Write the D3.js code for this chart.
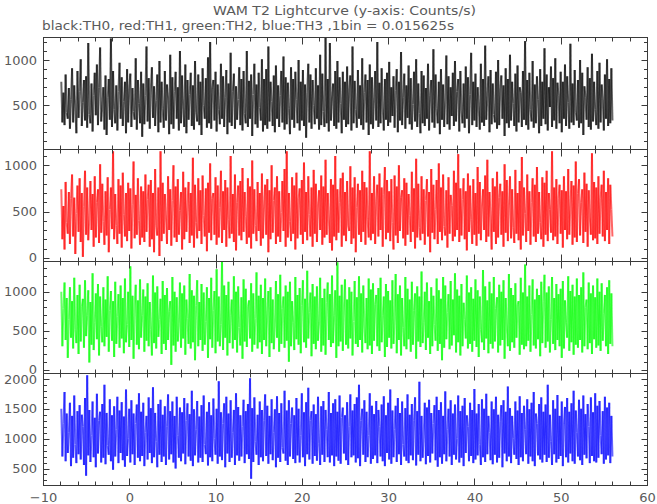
<!DOCTYPE html>
<html><head><meta charset="utf-8">
<script src="https://cdn.jsdelivr.net/npm/d3@7"></script>
<style>body{margin:0;background:#fff}svg{display:block}text{font-family:"DejaVu Sans",sans-serif;fill:#5a5a5a}</style>
</head><body><svg id="c" width="657" height="504"></svg>
<script>
const title = "WAM T2 Lightcurve (y-axis: Counts/s)";
const subtitle = "black:TH0, red:TH1, green:TH2, blue:TH3 ,1bin = 0.015625s";
const seriesNames = ["TH0","TH1","TH2","TH3"];
const tStart = -8, binWidth = 0.125;
const xTickLabels = [-10,0,10,20,30,40,50,60];
const yDomains = [[10,1250],[-40,1170],[-51,1390],[216,2089]];
const yLabelTicks = [[500,1000],[0,500,1000],[0,500,1000],[500,1000,1500,2000]];
const seriesColors = ["#000000","#ff0000","#00ff00","#0000ff"];

const th0 = [760,310,640,280,840,420,350,690,240,560,910,310,720,470,190,880,
360,650,1010,270,530,780,330,820,250,1190,400,300,740,210,610,860,
390,950,280,700,1140,320,480,700,230,830,170,590,790,340,1240,260,
880,450,300,720,220,650,970,350,810,270,540,760,190,900,310,680,
850,260,690,430,340,1020,230,780,520,300,870,150,740,290,610,1150,
320,800,240,680,920,360,710,270,550,840,200,990,310,760,460,250,
880,330,730,580,180,1060,290,810,240,650,870,350,700,220,1100,300,
830,470,260,950,190,780,340,620,860,270,720,230,990,420,320,840,
280,760,170,910,500,350,800,250,1030,300,1200,240,690,780,330,870,
210,730,450,290,960,350,820,260,590,890,180,740,310,1080,270,650,
850,240,710,340,560,920,280,790,220,880,410,300,1100,260,770,350,
840,160,620,960,290,730,250,860,480,330,1010,210,790,280,900,240,
1150,320,760,540,270,830,200,940,350,720,260,610,880,310,1040,230,
810,290,750,460,180,920,340,790,250,870,560,300,1000,220,760,330,
890,270,730,140,640,960,310,840,240,780,500,290,910,350,720,230,
1060,280,850,430,260,1245,300,790,210,1190,330,580,740,270,880,240,
990,310,810,520,190,870,340,760,260,930,290,680,830,220,1150,300,
770,450,250,890,350,720,280,1020,230,640,840,310,780,170,950,290,
810,240,570,880,330,1200,260,750,300,910,470,220,790,340,860,270,
980,310,700,380,820,250,660,900,200,760,330,1090,280,590,850,240,
720,360,940,290,800,230,510,870,320,1010,260,740,410,190,880,300,
830,270,690,350,960,220,610,780,310,1120,250,840,460,300,760,180,
900,340,730,260,570,1050,290,820,230,700,380,860,270,990,320,650,
790,210,880,440,300,740,250,930,350,810,190,620,1080,280,760,330,
850,260,700,480,230,960,310,790,270,1160,340,580,820,200,890,290,
740,400,310,870,240,1000,280,680,830,350,720,160,910,300,790,250,
1060,330,760,520,270,850,210,940,310,700,640,260,880,340,1210,280,
780,230,860,450,320,990,250,730,300,820,560,190,900,270,760,350,
1130,290,840,220,700,480,930,260,800,330,1020,240,750,610,300,870,
200,760,350,950,270,820,530,240,1180,310,740,280,890,420,330,780,
250,1000,300,860,170,710,590,340,920,260,800,230,1070,320,760,450,
280,880,240,970,310,730,560,220,840,350,1010,270,790,300,910,330];

const th1 = [740,200,560,90,820,380,260,710,150,640,900,230,650,40,480,780,
280,860,170,700,10,550,940,250,760,190,430,830,300,690,120,880,
220,600,740,160,1010,270,800,390,140,720,240,870,60,520,760,310,
1150,200,690,350,150,850,260,780,110,920,470,230,700,180,810,290,
750,100,580,1040,210,680,250,860,400,140,770,220,720,170,900,280,
630,790,120,840,200,700,60,960,350,240,760,20,1150,180,810,260,
690,440,150,880,300,740,130,620,1000,220,770,170,850,250,510,710,
90,930,200,760,280,570,820,160,700,240,1080,110,790,380,210,860,
290,730,150,890,460,230,750,70,810,270,1020,190,640,700,250,870,
140,780,220,540,940,160,720,300,840,120,760,410,210,1100,260,690,
170,900,80,600,780,240,830,190,970,280,710,450,150,860,220,770,
100,1050,260,740,350,180,820,290,700,130,910,210,560,790,250,850,
60,730,200,1000,270,620,760,150,880,230,720,170,490,830,290,960,
120,1150,220,700,390,180,870,260,780,90,920,210,640,750,250,840,
150,1030,280,710,190,880,470,230,760,120,950,260,800,170,570,730,
300,890,140,770,220,1060,250,700,430,160,850,80,790,230,1100,190,
740,270,600,860,120,920,240,710,180,830,350,290,990,150,760,210,
870,60,540,800,250,730,170,940,280,820,140,760,420,220,1150,190,
700,260,880,150,610,790,230,910,300,760,120,680,980,200,840,270,
720,180,850,380,90,890,240,770,160,1000,290,650,730,210,860,130,
810,250,690,460,170,930,280,750,100,1070,220,800,330,190,880,260,
740,140,620,850,230,710,60,960,270,790,200,520,840,150,1020,280,
760,190,900,340,240,730,110,870,260,680,560,180,940,230,810,300,
1120,170,750,240,630,860,200,720,80,910,280,780,410,150,850,250,
700,130,980,260,820,190,560,740,300,890,170,1060,230,710,440,90,
860,280,770,150,930,220,650,800,250,720,120,1010,270,840,180,560,
880,210,740,330,160,950,260,700,190,830,90,1090,240,760,480,170,
900,290,720,140,600,860,230,790,170,980,260,710,380,200,870,120,
810,250,940,180,700,520,270,1150,190,760,230,850,150,640,790,260,
730,110,880,300,720,200,960,250,560,830,140,780,220,1040,170,690,
850,240,600,740,160,920,280,800,120,730,430,250,1130,190,820,210,
760,150,880,260,640,790,230,940,180,710,300,860,150,790,520,230];

const th2 = [1000,300,780,1120,380,920,150,640,1060,410,880,270,1180,520,340,960,
200,1090,360,810,910,280,1150,430,700,1020,90,870,320,1240,250,600,
980,390,1100,180,940,550,350,1060,300,900,420,1200,230,760,1010,370,
880,160,1130,330,680,970,280,1080,400,920,210,1170,350,580,1000,290,
1330,380,950,140,830,1090,320,890,260,1160,410,700,1030,230,940,370,
1110,300,870,520,180,1210,340,990,270,1070,420,640,910,200,1140,330,
960,250,1050,380,750,880,60,1190,310,1000,230,930,360,590,1120,280,
980,400,1080,190,900,660,330,1230,270,1020,350,950,120,820,1150,300,
870,380,1100,240,990,320,620,1060,150,920,390,1180,280,760,1010,210,
1290,360,940,300,580,1390,250,1080,410,960,180,1130,340,700,900,270,
1200,380,1000,220,1070,540,310,930,140,1160,360,1040,290,810,890,400,
1110,230,980,320,660,1250,270,950,350,1090,200,920,380,1170,300,740,
1010,160,1060,340,900,260,560,1140,410,970,230,1220,330,780,940,280,
1080,370,1000,100,1130,300,880,610,250,1190,390,960,320,1050,210,820,
1150,350,910,280,1270,400,730,990,170,1100,330,940,260,1070,370,600,
1180,230,920,310,1040,190,860,1120,380,970,290,1210,340,690,1020,150,
1380,300,950,360,1090,240,780,1160,320,900,270,1060,400,1000,180,620,
1140,330,930,290,1200,380,980,220,1080,560,340,920,260,1170,310,1030,
200,1110,370,840,960,300,1050,240,1180,350,700,940,160,1100,290,1010,
410,890,270,1150,330,650,1230,210,970,380,1080,180,920,540,300,1190,
260,1040,390,900,230,1130,320,760,980,140,1070,360,940,290,1260,340,
610,1000,250,1120,410,880,200,1060,300,950,580,370,1170,240,1020,330,
910,120,1190,280,1080,390,730,970,260,1140,310,900,440,1240,220,1030,
350,950,180,1100,300,860,640,400,1210,270,990,330,1060,230,910,370,
1160,290,1020,160,940,520,350,1280,250,1070,400,890,210,1130,330,980,
270,1190,360,780,930,220,1090,310,1000,380,1150,140,920,560,300,1230,
240,1050,350,960,280,1110,410,830,880,190,1180,320,990,260,1350,300,
940,370,1080,230,710,1160,310,900,270,1040,390,960,170,1130,340,880,
1220,280,990,360,1070,220,640,1190,330,920,250,1100,380,970,300,1040,
150,1140,270,890,600,410,1200,240,1010,350,1090,190,940,320,1170,280,
960,380,1060,220,1250,300,800,900,260,1120,340,980,200,1080,390,930,
280,1170,310,1000,240,1110,370,720,960,300,1060,200,1150,330,980,300];

const th3 = [1500,700,1250,1780,620,1420,760,1100,1600,540,1380,680,1720,900,590,1460,
740,1560,650,1400,1200,560,1680,380,2060,720,1480,610,1050,1620,690,1350,
520,1750,750,1300,1450,600,1580,680,1900,570,1430,880,730,1660,620,1390,
480,1540,700,1150,1700,590,1470,760,1610,640,1370,530,1820,710,1000,1500,
600,1640,740,1420,560,1250,1570,680,1760,620,1450,710,1600,540,1100,1380,
650,1690,760,1510,590,1860,690,1430,950,520,1580,730,1650,610,1400,700,
1540,560,1200,1740,650,1460,740,1620,600,1380,500,1700,1050,680,1520,620,
1440,750,1680,570,1300,1590,700,1410,630,1800,540,1490,720,1150,1630,600,
1370,680,1560,610,1720,900,740,1450,550,1610,690,1390,620,1670,1000,730,
1500,580,1960,700,1440,640,1250,1590,520,1700,750,1420,610,1640,680,1100,
1480,560,1760,720,1530,630,1390,700,1200,1650,590,1460,740,1580,660,2010,
330,1510,610,1690,950,730,1400,560,1620,690,1480,620,1300,1740,710,1550,
580,1380,740,1660,640,1100,1490,520,1710,680,1430,610,1590,850,750,1800,
630,1470,560,1640,700,1250,1520,660,1390,590,1680,720,1500,600,1050,1760,
690,1440,540,1610,740,1850,650,1300,1460,580,1570,710,1410,630,1700,920,
560,1540,730,1630,610,1480,1150,690,1780,600,1430,720,1590,540,1660,700,
1450,630,1720,580,1350,1520,750,1390,640,1610,560,1200,1740,690,1470,720,
1580,600,1690,670,1900,540,1300,1500,730,1640,610,1450,690,1050,1760,580,
1550,660,1410,720,1630,590,1480,1200,700,1570,620,1710,540,1390,760,1600,
650,1820,580,1470,690,1150,1550,610,1680,740,1430,560,1620,900,700,1510,
630,1740,590,1400,720,1580,640,1300,1690,550,1460,730,1950,620,1380,680,
1060,1600,570,1520,710,1650,600,1430,750,1250,1560,640,1700,530,1480,690,
1610,580,1380,740,1790,620,1150,1500,700,1640,560,1420,730,1570,650,1000,
1720,600,1460,680,1550,540,1680,760,1390,1200,620,1600,710,1480,590,1830,
650,1420,720,1580,900,560,1660,690,1500,610,1750,740,1380,1100,640,1620,
570,1490,730,1700,600,1400,680,1280,1560,520,1640,750,1450,620,1870,700,
1510,590,1380,1000,730,1620,660,1470,560,1710,690,1430,620,1550,1150,740,
1660,580,1490,700,1600,620,1780,540,1420,1250,720,1580,650,1690,600,1450,
730,1570,610,1900,680,1400,950,560,1640,740,1500,600,1730,660,1380,710,
1620,540,1260,1530,690,1680,600,1450,750,1590,620,1800,580,1470,1100,700,
1650,640,1500,560,1720,730,1410,670,1580,1200,590,1690,710,1440,620,1760,
600,1550,680,1630,1050,740,1460,580,1700,650,1520,720,1600,590,1380,700];

const series = [th0, th1, th2, th3];

const W = 657, H = 504, L = 43.5, R = 647.5, T = 37.5, PH = 112;
const svg = d3.select("#c");
svg.append("rect").attr("width", W).attr("height", H).attr("fill", "#fff");
const x = d3.scaleLinear().domain([-10, 60]).range([L, R]);
const frameColor = "#3a3a3a";
const defs = svg.append("defs");

series.forEach((vals, p) => {
  const y0 = T + p * PH, y1 = y0 + PH;
  const y = d3.scaleLinear().domain(yDomains[p]).range([y1, y0]);
  defs.append("clipPath").attr("id", "clip" + p).append("rect")
    .attr("x", L).attr("y", y0).attr("width", R - L).attr("height", PH);
  const segLine = d3.line().x(d => x(tStart + (d[0] + 0.5) * binWidth)).y(d => y(d[1]));
  const segs = d3.pairs(vals.map((v, i) => [i, v]));
  svg.append("g").attr("clip-path", `url(#clip${p})`)
    .selectAll("path").data(segs).join("path")
    .attr("d", s => segLine(s))
    .attr("fill", "none").attr("stroke", seriesColors[p])
    .attr("stroke-width", 2).attr("stroke-opacity", 0.6);

  const g = svg.append("g").attr("stroke", frameColor).attr("stroke-width", 1);
  const yMinor = d3.range(Math.ceil(yDomains[p][0] / 100) * 100, yDomains[p][1], 100);
  yMinor.forEach(v => {
    const len = v % 500 === 0 ? 6 : 3.5;
    const yy = Math.round(y(v)) + 0.5;
    g.append("line").attr("x1", L).attr("x2", L + len).attr("y1", yy).attr("y2", yy);
    g.append("line").attr("x1", R).attr("x2", R - len).attr("y1", yy).attr("y2", yy);
  });
  d3.range(-10, 61, 2).forEach(t => {
    const len = t % 10 === 0 ? 7 : 4;
    const xx = Math.round(x(t) - 0.5) + 0.5;
    g.append("line").attr("x1", xx).attr("x2", xx).attr("y1", y0).attr("y2", y0 + len);
    g.append("line").attr("x1", xx).attr("x2", xx).attr("y1", y1).attr("y2", y1 - len);
  });
  yLabelTicks[p].forEach(v => {
    svg.append("text").attr("x", 37).attr("y", y(v)).attr("dy", "0.36em")
      .attr("text-anchor", "end").attr("font-size", 13).text(v);
  });
});

const fr = svg.append("g").attr("stroke", frameColor).attr("fill", "none");
fr.append("rect").attr("x", L).attr("y", T).attr("width", R - L).attr("height", 4 * PH);
[1, 2, 3].forEach(k => fr.append("line").attr("x1", L).attr("x2", R).attr("y1", T + k * PH).attr("y2", T + k * PH));

xTickLabels.forEach(t => {
  svg.append("text").attr("x", x(t)).attr("y", 502).attr("text-anchor", "middle")
    .attr("font-size", 13).text(t < 0 ? "\u2212" + Math.abs(t) : t);
});

svg.append("text").attr("x", 213).attr("y", 15).attr("font-size", 13)
  .attr("textLength", 263).attr("lengthAdjust", "spacingAndGlyphs").text(title);
svg.append("text").attr("x", 42).attr("y", 30).attr("font-size", 13)
  .attr("textLength", 412).attr("lengthAdjust", "spacingAndGlyphs").text(subtitle);
</script></body></html>
